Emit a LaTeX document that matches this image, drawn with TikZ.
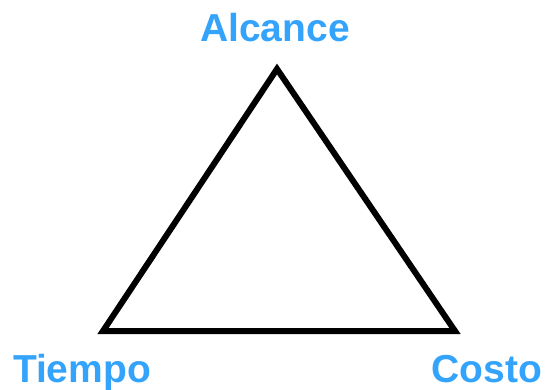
\documentclass[tikz,border=0pt]{standalone}
\usepackage{fontspec}
\setmainfont{Liberation Sans}
\definecolor{lblue}{RGB}{51,163,252}
\begin{document}
\begin{tikzpicture}[x=1pt,y=-1pt,
  lbl/.style={text=lblue,font=\fontsize{39}{39}\selectfont\bfseries,inner sep=0pt,anchor=base},
  tri/.style={draw=black,line width=6pt,miter limit=10}]
\useasboundingbox (0,0) rectangle (548,390);
\coordinate (top) at (277,69);
\coordinate (bl) at (103,331);
\coordinate (br) at (455,331);
\draw[tri] (top) -- (bl) -- (br) -- cycle;
\node[lbl] (alc) at (275,42) {Alcance};
\node[lbl] (tie) at (82,382) {Tiempo};
\node[lbl] (cos) at (487,382) {Costo};
\end{tikzpicture}
\end{document}
